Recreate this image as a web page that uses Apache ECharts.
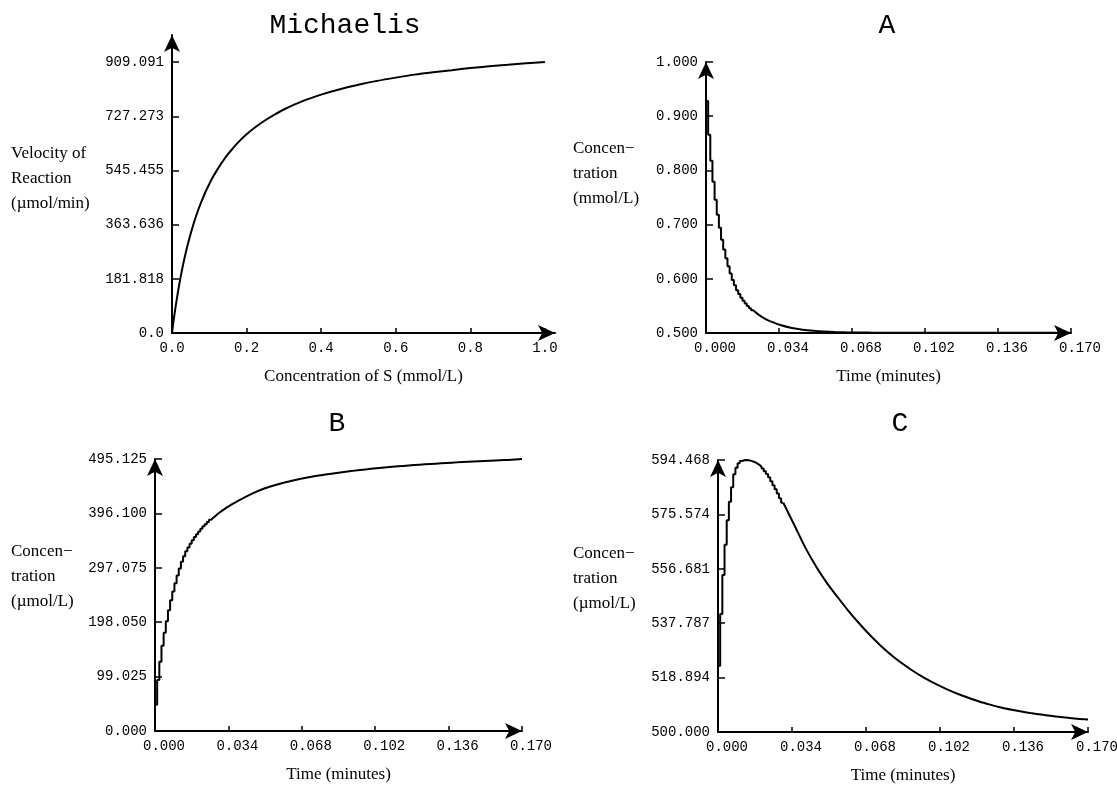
<!DOCTYPE html>
<html><head><meta charset="utf-8">
<script src="https://cdn.jsdelivr.net/npm/echarts@6/dist/echarts.min.js"></script>
<style>html,body{margin:0;padding:0;background:#fff}#c{width:1117px;height:785px}</style>
</head><body><div id="c"></div>
<script>
// ---- Michaelis panel ----
const michS = [0, 0.005, 0.01, 0.015, 0.02, 0.025, 0.03, 0.035, 0.04, 0.045, 0.05, 0.06, 0.07, 0.08, 0.09, 0.1, 0.11, 0.12, 0.13, 0.14, 0.15, 0.16, 0.18, 0.2, 0.225, 0.25, 0.275, 0.3, 0.35, 0.4, 0.45, 0.5, 0.55, 0.6, 0.65, 0.7, 0.75, 0.8, 0.85, 0.9, 0.95, 1.0];
const michV = [0, 48, 91, 130, 167, 200, 231, 259, 286, 310, 333, 375, 412, 444, 474, 500, 524, 545, 565, 583, 600, 615, 643, 667, 692, 714, 733, 750, 778, 800, 818, 833, 846, 857, 867, 875, 882, 889, 895, 900, 905, 909.091];
const michXTicks = [0, 0.2, 0.4, 0.6, 0.8, 1.0];
const michXLabels = ['0.0', '0.2', '0.4', '0.6', '0.8', '1.0'];
const michYTicks = [0, 181.818, 363.636, 545.455, 727.273, 909.091];
const michYLabels = ['0.0', '181.818', '363.636', '545.455', '727.273', '909.091'];

// ---- time grid shared by A, B, C ----
const timeEarly = [0, 0.001, 0.002, 0.003, 0.004, 0.005, 0.006, 0.007, 0.008, 0.009, 0.010, 0.011, 0.012, 0.013, 0.014, 0.015, 0.016, 0.017, 0.018, 0.019, 0.020, 0.021, 0.022, 0.023, 0.024, 0.025, 0.026, 0.027, 0.028, 0.029, 0.030];
const timeLate = [0.030, 0.035, 0.040, 0.045, 0.050, 0.055, 0.060, 0.065, 0.070, 0.075, 0.080, 0.085, 0.090, 0.095, 0.100, 0.105, 0.110, 0.115, 0.120, 0.125, 0.130, 0.135, 0.140, 0.145, 0.150, 0.155, 0.160, 0.165, 0.170];
const timeTicks = [0, 0.034, 0.068, 0.102, 0.136, 0.170];
const timeLabels = ['0.000', '0.034', '0.068', '0.102', '0.136', '0.170'];

// ---- A (mmol/L) ----
const aEarly = [1.000, 0.928, 0.866, 0.818, 0.779, 0.746, 0.718, 0.694, 0.672, 0.654, 0.638, 0.623, 0.610, 0.598, 0.588, 0.579, 0.572, 0.565, 0.5595, 0.5545, 0.5500, 0.5458, 0.5420, 0.5385, 0.5353, 0.5324, 0.5298, 0.5274, 0.5252, 0.5233, 0.5215];
const aLate = [0.5215, 0.5143, 0.5094, 0.5062, 0.5041, 0.5027, 0.5018, 0.5012, 0.5009, 0.5007, 0.5006, 0.5006, 0.5005, 0.5005, 0.5005, 0.5005, 0.5005, 0.5005, 0.5005, 0.5005, 0.5005, 0.5005, 0.5005, 0.5005, 0.5005, 0.5005, 0.5005, 0.5005, 0.5005];
const aTicks = [0.5, 0.6, 0.7, 0.8, 0.9, 1.0];
const aLabels = ['0.500', '0.600', '0.700', '0.800', '0.900', '1.000'];

// ---- B (umol/L) ----
const bEarly = [0, 48, 93, 126, 155, 179, 200, 220, 238, 254, 269, 283, 296, 308, 318, 327, 334, 341, 347, 353, 358, 363, 368, 372.5, 376.5, 380.5, 384.5, 388, 391.5, 395, 398];
const bLate = [398, 411, 422, 432, 440.5, 447, 452.5, 457, 461, 464.5, 467.5, 470.3, 472.8, 475.1, 477.2, 479.1, 480.9, 482.5, 484, 485.4, 486.7, 487.9, 489, 490.1, 491.1, 492.0, 492.9, 493.8, 495.125];
const bTicks = [0, 99.025, 198.05, 297.075, 396.1, 495.125];
const bLabels = ['0.000', '99.025', '198.050', '297.075', '396.100', '495.125'];

// ---- C (umol/L) ----
const cEarly = [500, 523, 541, 554.5, 565, 573.5, 580, 585, 589.5, 591.8, 593.3, 594.1, 594.4, 594.468, 594.4, 594.25, 594.0, 593.7, 593.3, 592.8, 592.2, 591.5, 590.6, 589.6, 588.5, 587.1, 585.7, 584.3, 582.8, 581.2, 579.6];
const cLate = [579.6, 572.0, 564.2, 557.6, 551.8, 546.8, 542.0, 537.6, 533.5, 529.8, 526.5, 523.6, 521.0, 518.7, 516.7, 514.9, 513.3, 511.9, 510.6, 509.5, 508.5, 507.7, 507.0, 506.4, 505.9, 505.4, 505.0, 504.6, 504.3];
const cTicks = [500, 518.894, 537.787, 556.681, 575.574, 594.468];
const cLabels = ['500.000', '518.894', '537.787', '556.681', '575.574', '594.468'];

const MONO = 'Liberation Mono';
const SERIF = 'Liberation Serif';

function pick(ticks, labels) {
  return function (v) {
    for (let i = 0; i < ticks.length; i++) {
      if (Math.abs(ticks[i] - v) <= 1e-6 * Math.max(1, Math.abs(ticks[i]))) return labels[i];
    }
    return '';
  };
}

function axis(gridIndex, min, max, ticks, labels, isX, extra) {
  return Object.assign({
    type: 'value', gridIndex: gridIndex, min: min, max: max,
    axisLine: {
      show: true, onZero: false, symbol: ['none', 'arrow'], symbolSize: [12, 17], symbolOffset: [0, 0],
      lineStyle: { color: '#000', width: 2 }
    },
    axisTick: { show: true, inside: true, length: isX ? 5 : 7, customValues: ticks, lineStyle: { color: '#000', width: 1.5 } },
    axisLabel: {
      customValues: ticks, formatter: pick(ticks, labels), color: '#000',
      fontFamily: MONO, fontSize: 14, margin: 8
    },
    splitLine: { show: false }
  }, extra || {});
}

function pairs(xs, ys) { return xs.map((x, i) => [x, ys[i]]); }

const lineBase = { type: 'line', showSymbol: false, symbol: 'none', silent: true, animation: false, lineStyle: { color: '#000', width: 2 } };
function earlySeries(g, ys) { return Object.assign({}, lineBase, { xAxisIndex: g, yAxisIndex: g, step: 'start', data: pairs(timeEarly, ys) }); }
function lateSeries(g, ys) { return Object.assign({}, lineBase, { xAxisIndex: g, yAxisIndex: g, smooth: 0.3, data: pairs(timeLate, ys) }); }

const nameStyle = { color: '#000', fontFamily: SERIF, fontSize: 17 };
const xName = (n) => ({ name: n, nameLocation: 'middle', nameGap: 35, nameTextStyle: nameStyle });

function timeAxis(g) {
  const ax = axis(g, 0, 0.170, timeTicks, timeLabels, true, xName('Time (minutes)'));
  ax.axisLabel.padding = [0, 0, 0, 18];
  return ax;
}

const titleStyle = { fontFamily: MONO, fontSize: 28, fontWeight: 'normal', color: '#000' };

const chart = echarts.init(document.getElementById('c'), null, { renderer: 'canvas' });
chart.setOption({
  backgroundColor: '#fff',
  animation: false,
  title: [
    { text: 'Michaelis', left: 345, top: 12, padding: 0, textAlign: 'center', textStyle: titleStyle },
    { text: 'A', left: 887, top: 12, padding: 0, textAlign: 'center', textStyle: titleStyle },
    { text: 'B', left: 337, top: 410, padding: 0, textAlign: 'center', textStyle: titleStyle },
    { text: 'C', left: 900, top: 410, padding: 0, textAlign: 'center', textStyle: titleStyle }
  ],
  grid: [
    { left: 172, top: 35, width: 383, height: 298, outerBoundsMode: 'none' },
    { left: 706, top: 62, width: 365, height: 271, outerBoundsMode: 'none' },
    { left: 155, top: 459, width: 367, height: 272, outerBoundsMode: 'none' },
    { left: 718, top: 460, width: 370, height: 272, outerBoundsMode: 'none' }
  ],
  xAxis: [
    axis(0, 0, 1.027, michXTicks, michXLabels, true, xName('Concentration of S (mmol/L)')),
    timeAxis(1), timeAxis(2), timeAxis(3)
  ],
  yAxis: [
    axis(0, 0, 1000, michYTicks, michYLabels, false),
    axis(1, 0.5, 1.0, aTicks, aLabels, false),
    axis(2, 0, 495.125, bTicks, bLabels, false),
    axis(3, 500, 594.468, cTicks, cLabels, false)
  ],
  graphic: [
    { type: 'text', left: 11, top: 141, style: { text: 'Velocity of\nReaction\n(µmol/min)', font: '17px "Liberation Serif"', lineHeight: 25, fill: '#000' } },
    { type: 'text', left: 573, top: 136, style: { text: 'Concen\u2212\ntration\n(mmol/L)', font: '17px "Liberation Serif"', lineHeight: 25, fill: '#000' } },
    { type: 'text', left: 11, top: 539, style: { text: 'Concen\u2212\ntration\n(µmol/L)', font: '17px "Liberation Serif"', lineHeight: 25, fill: '#000' } },
    { type: 'text', left: 573, top: 541, style: { text: 'Concen\u2212\ntration\n(µmol/L)', font: '17px "Liberation Serif"', lineHeight: 25, fill: '#000' } }
  ],
  series: [
    Object.assign({}, lineBase, { xAxisIndex: 0, yAxisIndex: 0, smooth: 0.3, data: pairs(michS, michV) }),
    earlySeries(1, aEarly), lateSeries(1, aLate),
    earlySeries(2, bEarly), lateSeries(2, bLate),
    earlySeries(3, cEarly), lateSeries(3, cLate)
  ]
});
</script>
</body></html>
